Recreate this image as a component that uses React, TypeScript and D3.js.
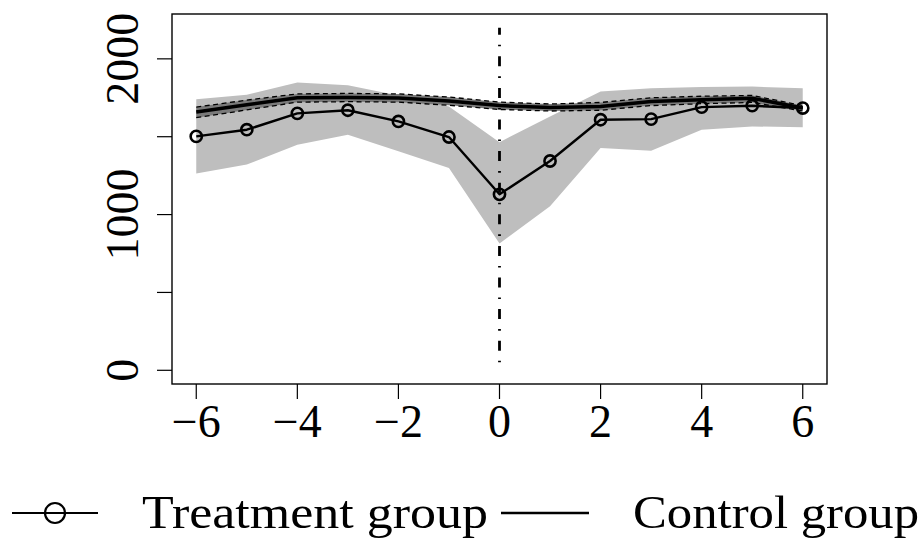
import React from "react";
import * as d3 from "d3";

const periods = [-6, -5, -4, -3, -2, -1, 0, 1, 2, 3, 4, 5, 6];
const treatment = [1502, 1545, 1650, 1670, 1598, 1498, 1130, 1344, 1609, 1613, 1690, 1699, 1684];
const treatmentUpper = [1741, 1769, 1848, 1831, 1765, 1694, 1465, 1630, 1791, 1811, 1820, 1822, 1811];
const treatmentLower = [1263, 1321, 1449, 1513, 1406, 1299, 815, 1053, 1427, 1410, 1545, 1566, 1560];
const control = [1658, 1705, 1750, 1752, 1748, 1730, 1700, 1688, 1694, 1726, 1737, 1747, 1684];
const controlUpper = [1690, 1735, 1775, 1778, 1775, 1755, 1722, 1710, 1720, 1750, 1760, 1765, 1700];
const controlLower = [1622, 1672, 1722, 1725, 1722, 1702, 1675, 1665, 1670, 1700, 1712, 1720, 1665];
const xTicks = [-6, -4, -2, 0, 2, 4, 6];
const yTicks = [0, 500, 1000, 1500, 2000];
const yLabels = [0, 1000, 2000];
const legendLabels = ["Treatment group", "Control group"];

const FONT = "'Liberation Serif', 'DejaVu Serif', serif";

export default function App() {
  const W = 921, H = 540;
  const left = 172, right = 827, top = 14, bottom = 384;
  const x = d3.scaleLinear().domain([-6.48, 6.48]).range([left, right]);
  const y = d3.scaleLinear().domain([-88, 2288]).range([bottom, top]);

  const idx = periods.map((_, i) => i);
  const band = (lo: number[], hi: number[]) =>
    d3.area<number>().x((i) => x(periods[i])).y0((i) => y(lo[i])).y1((i) => y(hi[i]))(idx) || "";
  const line = (v: number[]) =>
    d3.line<number>().x((i) => x(periods[i])).y((i) => y(v[i]))(idx) || "";

  const fmt = (v: number) => (v < 0 ? "\u2212" + Math.abs(v) : String(v));

  return (
    <svg
      width={W}
      height={H}
      style={{ position: "absolute", left: 0, top: 0, background: "#fff" }}
      fontFamily={FONT}
    >
      <rect x={0} y={0} width={W} height={H} fill="#fff" />
      {/* treatment CI */}
      <path d={band(treatmentLower, treatmentUpper)} fill="#bebebe" stroke="none" />
      {/* control CI */}
      <path d={band(controlLower, controlUpper)} fill="#7a7a7a" stroke="none" />
      <path d={line(controlUpper)} fill="none" stroke="#000" strokeWidth={1.3} strokeDasharray="5,3.5" />
      <path d={line(controlLower)} fill="none" stroke="#000" strokeWidth={1.3} strokeDasharray="5,3.5" />
      <path d={line(control)} fill="none" stroke="#000" strokeWidth={3.5} strokeLinejoin="round" />
      {/* event line */}
      <line
        x1={x(0)}
        x2={x(0)}
        y1={y(2200)}
        y2={y(0)}
        stroke="#000"
        strokeWidth={2.8}
        strokeDasharray="10,10,1.6,10"
        strokeDashoffset={3}
      />
      {/* treatment */}
      <path d={line(treatment)} fill="none" stroke="#000" strokeWidth={2.4} strokeLinejoin="round" />
      {periods.map((p, i) => (
        <circle key={p} cx={x(p)} cy={y(treatment[i])} r={5.6} fill="none" stroke="#000" strokeWidth={2.6} />
      ))}
      {/* box */}
      <rect x={left} y={top} width={right - left} height={bottom - top} fill="none" stroke="#000" strokeWidth={1.4} />
      {/* x axis */}
      {xTicks.map((t) => (
        <g key={t}>
          <line x1={x(t)} x2={x(t)} y1={bottom} y2={bottom + 15} stroke="#000" strokeWidth={1.2} />
          <text x={x(t)} y={437} textAnchor="middle" fontSize={46}>
            {fmt(t)}
          </text>
        </g>
      ))}
      {/* y axis */}
      {yTicks.map((t) => (
        <line key={t} x1={left - 15} x2={left} y1={y(t)} y2={y(t)} stroke="#000" strokeWidth={1.2} />
      ))}
      {yLabels.map((t) => (
        <text key={t} transform={`translate(138,${y(t)}) rotate(-90)`} textAnchor="middle" fontSize={46}>
          {t}
        </text>
      ))}
      {/* legend */}
      <line x1={12} x2={98} y1={513} y2={513} stroke="#000" strokeWidth={2.2} />
      <circle cx={55} cy={513} r={10} fill="none" stroke="#000" strokeWidth={2.2} />
      <text x={142} y={528} fontSize={46} textLength={346} lengthAdjust="spacingAndGlyphs">
        {legendLabels[0]}
      </text>
      <line x1={501} x2={589} y1={513} y2={513} stroke="#000" strokeWidth={2.4} />
      <text x={633} y={528} fontSize={46} textLength={286} lengthAdjust="spacingAndGlyphs">
        {legendLabels[1]}
      </text>
    </svg>
  );
}
